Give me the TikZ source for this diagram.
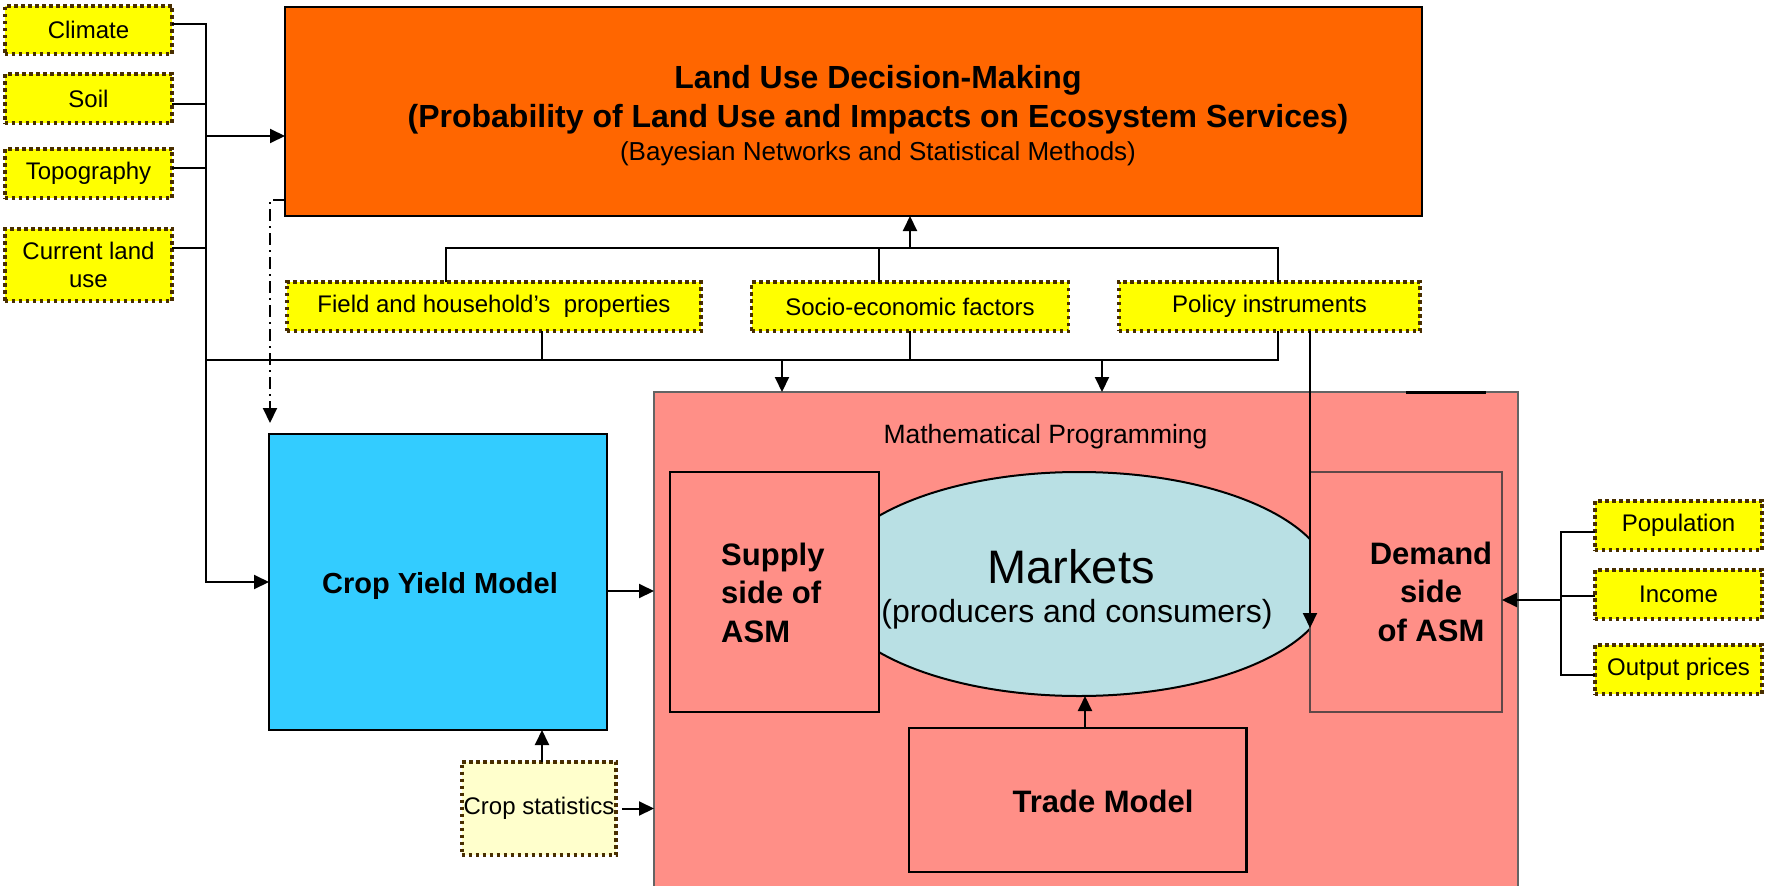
\documentclass[tikz,border=0pt]{standalone}
\usepackage{fontspec}
\setmainfont{Liberation Sans}
\usetikzlibrary{arrows.meta,shapes.geometric}

\definecolor{dotbrown}{RGB}{72,46,0}
\definecolor{inyellow}{RGB}{255,255,0}
\definecolor{paleyellow}{RGB}{255,255,204}
\definecolor{luorange}{RGB}{255,102,0}
\definecolor{cyblue}{RGB}{51,204,255}
\definecolor{mppink}{RGB}{255,143,135}
\definecolor{mktblue}{RGB}{185,224,228}
\definecolor{mpedge}{RGB}{100,100,100}
\definecolor{demedge}{RGB}{95,72,72}

\newcommand{\setfs}[1]{\fontsize{#1}{#1}\selectfont}

\tikzset{
  inputbox/.style={rectangle, fill=inyellow, draw=dotbrown, line width=3.8pt,
    dash pattern=on 3.6pt off 3.4pt, inner sep=0pt, outer sep=0pt,
    font={\setfs{24}}, align=center},
  solidbox/.style={rectangle, draw=black, line width=2.5pt, inner sep=0pt, outer sep=0pt},
  mpbox/.style={solidbox, fill=mppink},
  txt/.style={inner sep=0pt, anchor=base},
  conn/.style={line width=2pt, draw=black},
  arr/.style={conn, -{Triangle[length=15pt,width=14pt]}},
  dashdot/.style={conn, dash pattern=on 12pt off 5pt on 2pt off 5pt,
    -{Triangle[length=15pt,width=14pt,sep=0pt]}},
}

\begin{document}
\begin{tikzpicture}[x=1pt,y=-1pt]
\clip (0,0) rectangle (1767,886);

% ---- Mathematical Programming frame and its parts ----
\node[rectangle, fill=mppink, draw=mpedge, line width=2pt, inner sep=0pt, outer sep=0pt,
      minimum width=864pt, minimum height=520pt, anchor=north west] (mp) at (654,392) {};
\draw[line width=3pt] (1406,392) -- (1486,392);
\node[txt, font={\setfs{26.5}}] at (1045.5,443) {Mathematical Programming};

\node[ellipse, fill=mktblue, draw=black, line width=2pt, inner sep=0pt, outer sep=0pt,
      minimum width=504pt, minimum height=224pt] (mkt) at (1079,584) {};
\node[txt, font={\setfs{47}}] at (1071,583) {Markets};
\node[txt, font={\setfs{32}}] at (1077,622) {(producers and consumers)};

\node[mpbox, minimum width=209pt, minimum height=240pt] (supply) at (774.5,592) {};
\node[txt, anchor=base west, font={\setfs{31}\bfseries}] at (721,565) {Supply};
\node[txt, anchor=base west, font={\setfs{31}\bfseries}] at (721,603) {side of};
\node[txt, anchor=base west, font={\setfs{31}\bfseries}] at (721,642) {ASM};

\node[mpbox, draw=demedge, line width=2pt, minimum width=192pt, minimum height=240pt] (demand) at (1406,592) {};
\node[txt, font={\setfs{31}\bfseries}] at (1431,564) {Demand};
\node[txt, font={\setfs{31}\bfseries}] at (1431,602) {side};
\node[txt, font={\setfs{31}\bfseries}] at (1431,641) {of ASM};

\node[mpbox, minimum width=337.5pt, minimum height=144pt] (trade) at (1077.75,800) {};
\node[txt, font={\setfs{31}\bfseries}] at (1103,812) {Trade Model};

% ---- Land use decision-making ----
\node[solidbox, fill=luorange, minimum width=1137pt, minimum height=209pt] (landuse) at (853.5,111.5) {};
\node[txt, font={\setfs{32}\bfseries}] at (878,88) {Land Use Decision-Making};
\node[txt, font={\setfs{32}\bfseries}] at (878,127) {(Probability of Land Use and Impacts on Ecosystem Services)};
\node[txt, font={\setfs{26}}] at (878,160) {(Bayesian Networks and Statistical Methods)};

% ---- Crop yield model ----
\node[solidbox, fill=cyblue, minimum width=338pt, minimum height=296pt] (cropyield) at (438,582) {};
\node[txt, font={\setfs{29}\bfseries}] at (440,593) {Crop Yield Model};

% ---- Input boxes ----
\node[inputbox, minimum width=167.6pt, minimum height=48.6pt] (climate) at (88.5,30) {Climate};
\node[inputbox, minimum width=167.6pt, minimum height=49.6pt] (soil) at (88.5,98.5) {Soil};
\node[inputbox, minimum width=167.6pt, minimum height=49.6pt] (topo) at (88.5,173.5) {Topography};
\node[inputbox, minimum width=167.6pt, minimum height=72.6pt, font={\fontsize{24}{28}\selectfont}] (curland) at (88.5,265) {Current land\\use};

\node[inputbox, minimum width=414.7pt, minimum height=49pt] (field) at (494,306.75) {Field and household’s~ properties};
\node[inputbox, minimum width=317pt, minimum height=49pt] (socio) at (910,306.75) {Socio-economic factors};
\node[inputbox, minimum width=301.7pt, minimum height=49pt] (policy) at (1269.5,306.75) {Policy instruments};

\node[inputbox, fill=paleyellow, minimum width=154.7pt, minimum height=93.7pt] (cstat) at (539,808.5) {Crop statistics};

\node[inputbox, minimum width=167.6pt, minimum height=49.6pt] (pop) at (1678.5,525.5) {Population};
\node[inputbox, minimum width=167.6pt, minimum height=49.6pt] (income) at (1678.5,594.5) {Income};
\node[inputbox, minimum width=167.6pt, minimum height=49.6pt] (outp) at (1678.5,669.5) {Output prices};

% ---- Left bus: biophysical inputs ----
\coordinate (lbus) at (206,0);
\coordinate (clIn) at ([yshift=6pt]climate.east);
\coordinate (soIn) at ([yshift=-5.5pt]soil.east);
\coordinate (toIn) at ([yshift=5.5pt]topo.east);
\coordinate (cuIn) at ([yshift=17pt]curland.east);
\coordinate (luIn) at ([yshift=-24.5pt]landuse.west);
\draw[arr] (clIn) -| (lbus |- cropyield.west) -- (cropyield.west);
\draw[conn] (soIn) -- (soIn -| lbus);
\draw[conn] (toIn) -- (toIn -| lbus);
\draw[conn] (cuIn) -- (cuIn -| lbus);
\draw[arr] (luIn -| lbus) -- (luIn);

% ---- Land use feeds crop yield (dash-dot) ----
\draw[dashdot] ([yshift=16pt]landuse.south west) -| ([xshift=1pt,yshift=11pt]cropyield.north west);

% ---- Upper bus: factors into land use decision-making ----
\coordinate (upY) at (0,247.5);
\coordinate (fUp) at ([xshift=-48pt]field.north);
\coordinate (sUp) at ([xshift=-31pt]socio.north);
\coordinate (pUp) at ([xshift=8.5pt]policy.north);
\draw[conn] (fUp) |- (pUp |- upY) -- (pUp);
\draw[conn] (sUp) -- (sUp |- upY);
\draw[arr] (socio.north |- upY) -- (socio.north |- landuse.south);

% ---- Lower bus: factors into mathematical programming ----
\coordinate (lowY) at (0,360);
\coordinate (fDn) at ([xshift=48pt]field.south);
\coordinate (pDn) at ([xshift=8.5pt]policy.south);
\draw[conn] (lbus |- lowY) -- (pDn |- lowY) -- (pDn);
\draw[conn] (fDn) -- (fDn |- lowY);
\draw[conn] (socio.south) -- (socio.south |- lowY);
\coordinate (mpA) at (782,360);
\coordinate (mpB) at (1102,360);
\draw[arr] (mpA) -- (mpA |- mp.north);
\draw[arr] (mpB) -- (mpB |- mp.north);

% ---- Policy instruments into demand side ----
\coordinate (pD2) at ([xshift=40.5pt]policy.south);
\coordinate (demIn) at ([yshift=-36pt]demand.west);
\draw[arr] (pD2) -- (pD2 |- demIn);

% ---- Crop yield and statistics ----
\coordinate (cyOut) at ([yshift=-9pt]cropyield.east);
\draw[arr] (cyOut) -- (cyOut -| mp.west);
\draw[arr] ([xshift=3pt]cstat.north) -- ([xshift=3pt]cstat.north |- cropyield.south);
\coordinate (csOut) at ([xshift=5.6pt]cstat.east);
\draw[arr] (csOut) -- (csOut -| mp.west);

% ---- Trade model into markets ----
\coordinate (trOut) at ([xshift=7.25pt]trade.north);
\draw[arr] (trOut) -- (trOut |- mkt.south);

% ---- Right bus: demand drivers ----
\coordinate (rbus) at (1561,0);
\coordinate (pIn) at ([yshift=-6.5pt]pop.west);
\coordinate (iIn) at ([yshift=-1.5pt]income.west);
\coordinate (oIn) at ([yshift=-5.5pt]outp.west);
\coordinate (dIn) at ([yshift=-8pt]demand.east);
\draw[conn] (pIn) -| (rbus |- oIn) -- (oIn);
\draw[conn] (iIn) -- (iIn -| rbus);
\draw[arr] (dIn -| rbus) -- (dIn);
\end{tikzpicture}
\end{document}
